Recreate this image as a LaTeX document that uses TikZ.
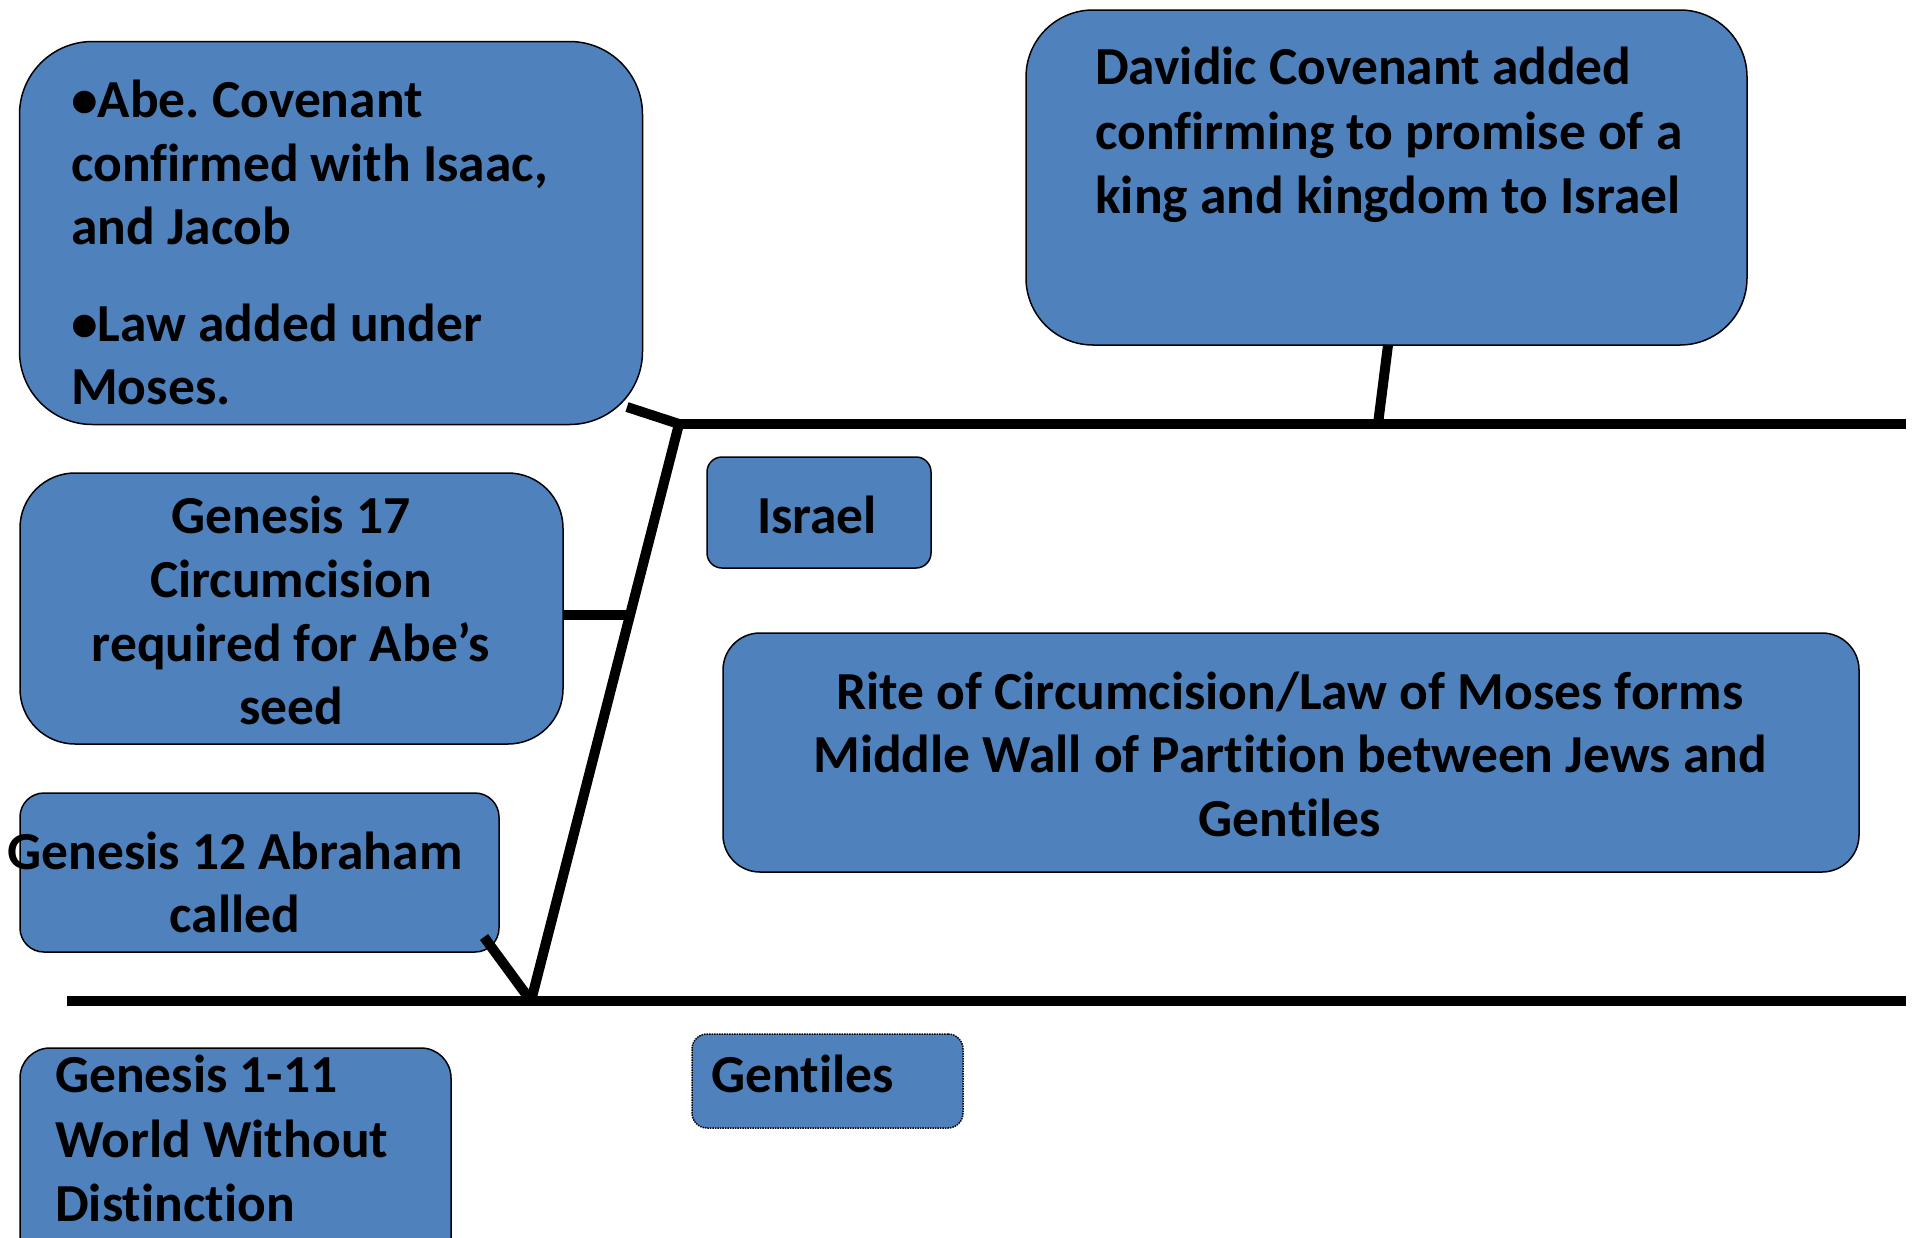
\documentclass[tikz,border=0pt]{standalone}
\usepackage{fontspec}
\setmainfont{Carlito}[Ligatures={NoCommon}]
\frenchspacing
\begin{document}
\begin{tikzpicture}[x=1pt,y=-1pt,
  box/.style={draw=black,line width=1.5pt,fill=boxblue,inner sep=0pt},
  txt/.style={font=\fontsize{53.5}{63.5}\selectfont\bfseries,inner sep=0pt,anchor=base},
  txtl/.style={txt,anchor=base west},
  conn/.style={line width=10pt,line cap=butt,line join=miter}]
\definecolor{boxblue}{HTML}{4F81BD}
\useasboundingbox (0,0) rectangle (1916,1237);
% boxes
\node[box,rounded corners=73pt,minimum width=623pt,minimum height=383pt] (A) at (331,233) {};
\node[box,rounded corners=67pt,minimum width=721pt,minimum height=335pt] (D) at (1386.5,177.5) {};
\node[box,rounded corners=55pt,minimum width=543pt,minimum height=271pt] (G17) at (291.5,608.5) {};
\node[box,rounded corners=24pt,minimum width=479pt,minimum height=159pt] (G12) at (259.5,872.5) {};
\node[box,rounded corners=30pt,minimum width=431pt,minimum height=230pt] (G1) at (235.5,1163) {};
\node[box,rounded corners=15pt,minimum width=224pt,minimum height=111pt] (IS) at (819,512.5) {};
\node[box,rounded corners=37pt,minimum width=1136pt,minimum height=239pt] (RW) at (1291,752.5) {};
\node[box,densely dotted,rounded corners=15pt,minimum width=271pt,minimum height=94pt] (GE) at (827.5,1081) {};
% texts
\node[txtl] (a1) at (71,117) {•Abe. Covenant};
\node[txtl] (a2) at (71,181) {confirmed with Isaac,};
\node[txtl] (a3) at (71,244) {and Jacob};
\node[txtl] (a4) at (71,341) {•Law added under};
\node[txtl] (a5) at (71,404) {Moses.};
\node[txtl] (d1) at (1095,84) {Davidic Covenant added};
\node[txtl] (d2) at (1095,149) {confirming to promise of a};
\node[txtl] (d3) at (1095,213) {king and kingdom to Israel};
\node[txt] (g1) at (291,533) {Genesis 17};
\node[txt] (g2) at (291,597) {Circumcision};
\node[txt] (g3) at (291,661) {required for Abe’s};
\node[txt] (g4) at (291,724) {seed};
\node[txt] (h1) at (235,869) {Genesis 12 Abraham};
\node[txt] (h2) at (235,932) {called};
\node[txtl] (w1) at (55,1092) {Genesis 1-11};
\node[txtl] (w2) at (55,1157) {World Without};
\node[txtl] (w3) at (55,1221) {Distinction};
\node[txt] (i1) at (817,533) {Israel};
\node[txt] (r1) at (1290,709) {Rite of Circumcision/Law of Moses forms};
\node[txt] (r2) at (1290,772) {Middle Wall of Partition between Jews and};
\node[txt] (r3) at (1290,836) {Gentiles};
\node[txtl] (e1) at (711,1092) {Gentiles};
% connector points
\coordinate (T) at (679,424);
\coordinate (B) at (531,1001);
\coordinate (TR) at (1906,424);
\coordinate (BL) at (67,1001);
\coordinate (BR) at (1906,1001);
\coordinate (Aend) at (627,407);
\coordinate (Dend) at (1388,345);
\coordinate (DT) at (1378,424);
\coordinate (G17T) at (630,615);
\coordinate (G12end) at (484,937);
% connectors
\draw[conn] (T) -- (TR);
\draw[conn] (BL) -- (BR);
\draw[conn] (Aend) -- (T) -- (B);
\draw[conn] (Dend) -- (DT);
\draw[conn] (G17.east |- G17T) -- (G17T);
\draw[conn] (G12end) -- (B);
\end{tikzpicture}
\end{document}
